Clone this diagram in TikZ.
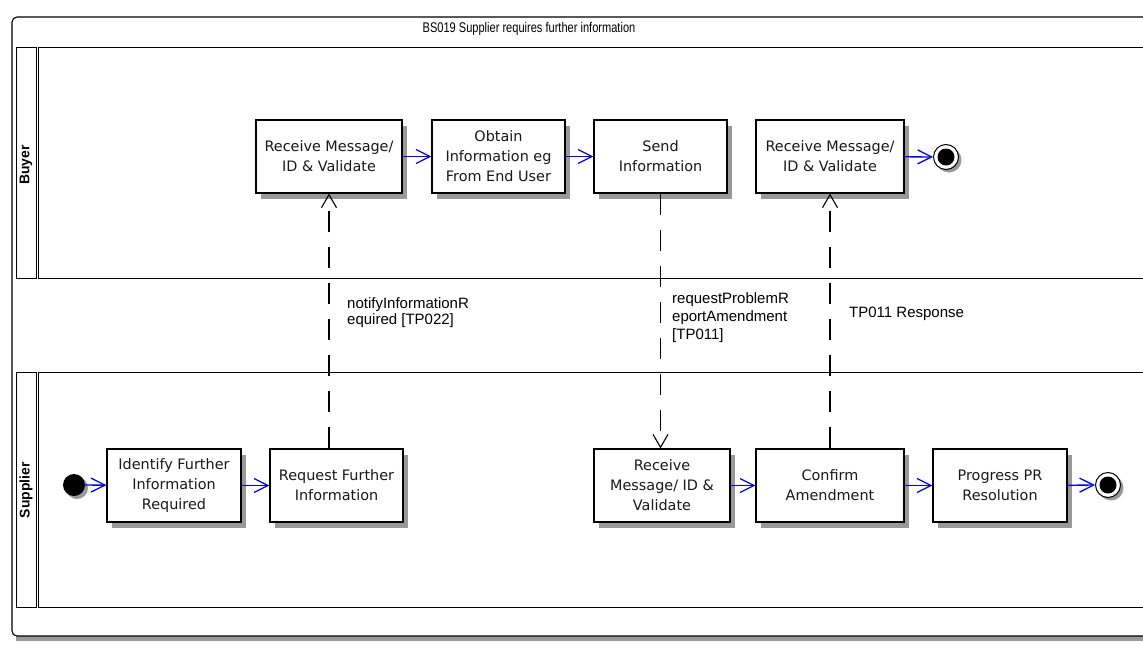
\documentclass[tikz,border=0pt]{standalone}
\usepackage{fontspec}
\usetikzlibrary{arrows.meta,shadows}
\newfontfamily\boxfont{DejaVu Sans}
\newfontfamily\lblfont{Liberation Sans}
\newfontfamily\titlefont[FakeStretch=0.79]{Liberation Sans}
\definecolor{shadowgray}{RGB}{153,153,153}
\definecolor{flowblue}{RGB}{0,0,255}
\begin{document}
\begin{tikzpicture}[x=1pt,y=-1pt,
  box/.style={draw=black, line width=1.1pt, fill=white, minimum height=73pt, inner sep=2pt, align=center,
    font=\boxfont\fontsize{14.4}{20}\selectfont, text=black!90,
    general shadow={fill=shadowgray, shadow xshift=5pt, shadow yshift=-6pt}},
  startst/.style={circle, fill=black, minimum size=22pt, inner sep=0pt,
    general shadow={fill=shadowgray, shadow xshift=3pt, shadow yshift=-3pt}},
  endst/.style={circle, draw=black, line width=1pt, fill=white, minimum size=25pt, inner sep=0pt,
    path picture={\fill[black] (path picture bounding box.center) circle (8.5pt);},
    general shadow={fill=shadowgray, shadow xshift=3pt, shadow yshift=-3pt}},
  flow/.style={draw=flowblue, line width=1.3pt, -{Straight Barb[length=14pt,width=14pt,line width=1.3pt]}},
  msg/.style={draw=black, line width=1.1pt, dash pattern=on 21pt off 15pt, -{Straight Barb[length=13pt,width=15pt,line width=1.1pt]}},
  lane/.style={draw=black, line width=0.9pt},
  lbl/.style={font=\lblfont\fontsize{15}{16}\selectfont, align=left, inner sep=0pt, anchor=north west},
  lanename/.style={font=\lblfont\bfseries\fontsize{14}{16}\selectfont, rotate=90, inner sep=0pt}
]
\useasboundingbox (0,0) rectangle (1143,648);
\clip (0,0) rectangle (1143,648);
% frame
\fill[shadowgray] (16,630) rectangle (1170,641);
\draw[line width=1.1pt, fill=white, rounded corners=5pt] (12,17) rectangle (1170,636);
\node[font=\titlefont\fontsize{14}{16}\selectfont] (title) at (529,29) {BS019 Supplier requires further information};
% lanes
\draw[lane] (16,47) rectangle (36.5,278);
\draw[lane] (38.5,47) rectangle (1170,278);
\draw[lane] (16,372) rectangle (36.5,607);
\draw[lane] (38.5,372) rectangle (1170,607);
\node[lanename] (buyer) at (26,165) {Buyer};
\node[lanename] (supplier) at (26,490) {Supplier};
% buyer
\node[box, minimum width=146pt] (b1) at (329,156.5) {Receive Message/\\ID \& Validate};
\node[box, minimum width=133pt] (b2) at (498.5,156.5) {Obtain\\Information eg\\From End User};
\node[box, minimum width=133pt] (b3) at (660.5,156.5) {Send\\Information};
\node[box, minimum width=148pt] (b4) at (830,156.5) {Receive Message/\\ID \& Validate};
\node[endst] (e1) at (946,157) {};
% supplier
\node[startst] (st) at (74,485) {};
\node[box, minimum width=134pt] (s1) at (174,485.5) {Identify Further\\Information\\Required};
\node[box, minimum width=133pt] (s2) at (336.5,485.5) {Request Further\\Information};
\node[box, minimum width=136pt] (s3) at (662,485.5) {Receive\\Message/ ID \&\\Validate};
\node[box, minimum width=148pt] (s4) at (830,485.5) {Confirm\\Amendment};
\node[box, minimum width=134pt] (s5) at (1000,485.5) {Progress PR\\Resolution};
\node[endst] (e2) at (1108,485) {};
% flows
\draw[flow] (b1) -- (b2);
\draw[flow] (b2) -- (b3);
\draw[flow] (b4) -- (e1);
\draw[flow] (st) -- (s1);
\draw[flow] (s1) -- (s2);
\draw[flow] (s3) -- (s4);
\draw[flow] (s4) -- (s5);
\draw[flow] (s5) -- (e2);
% messages
\draw[msg] (s2.north -| b1.south) -- (b1.south);
\draw[msg] (b3.south) -- (b3.south |- s3.north);
\draw[msg] (s4.north) -- (b4.south);
% labels
\node[lbl] (l1) at (347,297) {notifyInformationR\\equired [TP022]};
\node[lbl, font=\lblfont\fontsize{15}{18}\selectfont] (l2) at (672,292) {requestProblemR\\eportAmendment\\{[TP011]}};
\node[lbl, anchor=base west] (l3) at (849,317) {TP011 Response};
\end{tikzpicture}
\end{document}
